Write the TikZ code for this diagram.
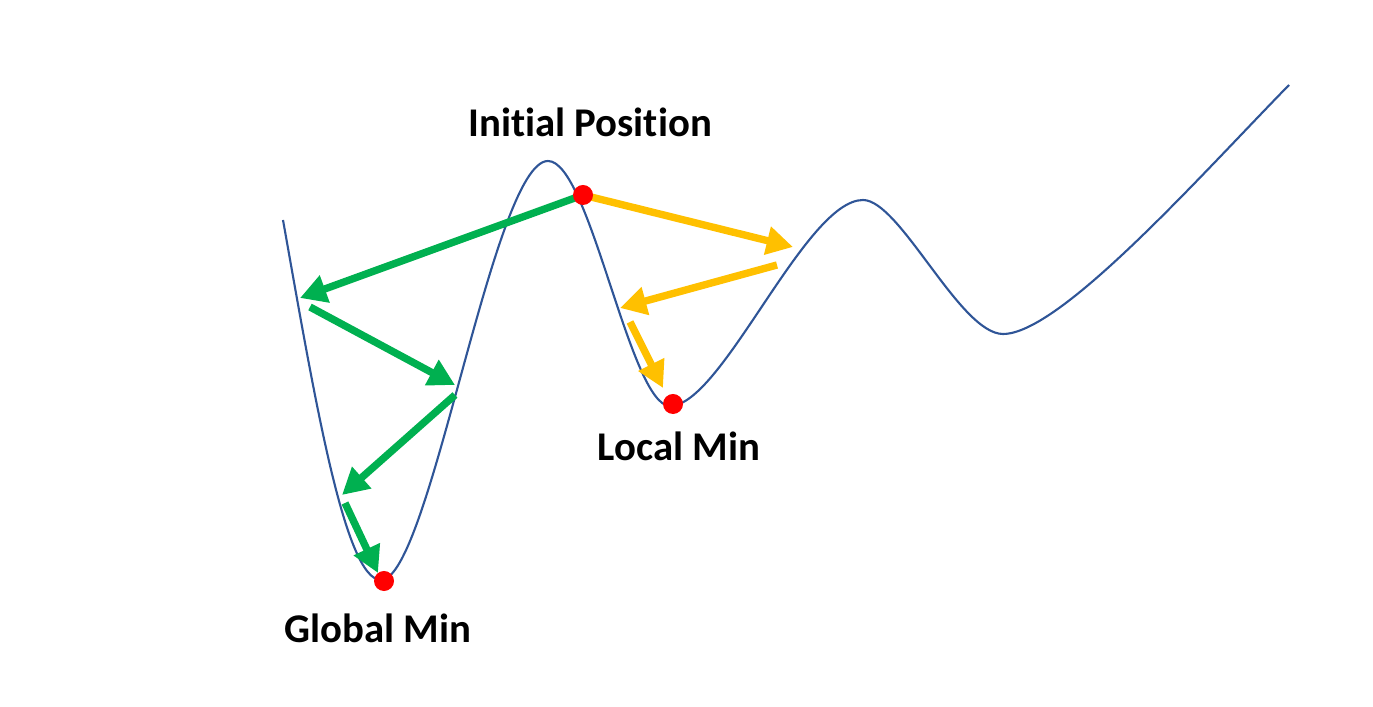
\documentclass[tikz,border=0pt]{standalone}
\usepackage{fontspec}
\setmainfont{Carlito}[Ligatures=NoCommon]
\usepackage{tikz}
\usetikzlibrary{arrows.meta}
\definecolor{curveblue}{RGB}{47,85,151}
\definecolor{stepgreen}{RGB}{0,176,80}
\definecolor{stepyellow}{RGB}{255,192,0}

\begin{document}
\begin{tikzpicture}[x=0.01cm, y=-0.01cm, every node/.style={font=\fontsize{11.6}{14}\selectfont\bfseries}, >={Triangle[length=7.5pt,width=7.8pt]}]
	\useasboundingbox (0,0) rectangle (1373,707);
	% loss curve
	\draw[curveblue, line width=0.6pt] (283,220) .. controls (315,400) and (345,580) .. (381,580)
		.. controls (430,580) and (493,161) .. (548,161)
		.. controls (590,161) and (630,406) .. (670,406)
		.. controls (722,406) and (805,200) .. (863,200)
		.. controls (900,200) and (960,334) .. (1003,334)
		.. controls (1060,334) and (1200,176) .. (1289,85);
	% points on the curve
	\coordinate (start) at (583,195);
	\coordinate (local) at (673,404);
	\coordinate (global) at (384,581);
	% green steps
	\coordinate (g1) at (300,298);
	\coordinate (g2s) at (310,307);
	\coordinate (g2) at (455,385);
	\coordinate (g3s) at (455,395);
	\coordinate (g3) at (342,495);
	\coordinate (g4s) at (345,503);
	\coordinate (g4) at (378,573);
	\draw[->, stepgreen, line width=2.1pt] (start) -- (g1);
	\draw[->, stepgreen, line width=2.1pt] (g2s) -- (g2);
	\draw[->, stepgreen, line width=2.1pt] (g3s) -- (g3);
	\draw[->, stepgreen, line width=2.1pt] (g4s) -- (g4);
	% yellow steps
	\coordinate (y1) at (793,247);
	\coordinate (y2s) at (777,265);
	\coordinate (y2) at (620,308);
	\coordinate (y3s) at (630,322);
	\coordinate (y3) at (663,388);
	\draw[->, stepyellow, line width=2.1pt] (start) -- (y1);
	\draw[->, stepyellow, line width=2.1pt] (y2s) -- (y2);
	\draw[->, stepyellow, line width=2.1pt] (y3s) -- (y3);
	% dots
	\node[circle, fill=red, inner sep=0pt, minimum size=0.2cm] (initdot) at (start) {};
	\node[circle, fill=red, inner sep=0pt, minimum size=0.2cm] (localdot) at (local) {};
	\node[circle, fill=red, inner sep=0pt, minimum size=0.2cm] (globaldot) at (global) {};
	% labels
	\node (initlabel) at (590,122) {Initial Position};
	\node (locallabel) at (679,446) {Local Min};
	\node (globallabel) at (378,628) {Global Min};
\end{tikzpicture}
\end{document}
